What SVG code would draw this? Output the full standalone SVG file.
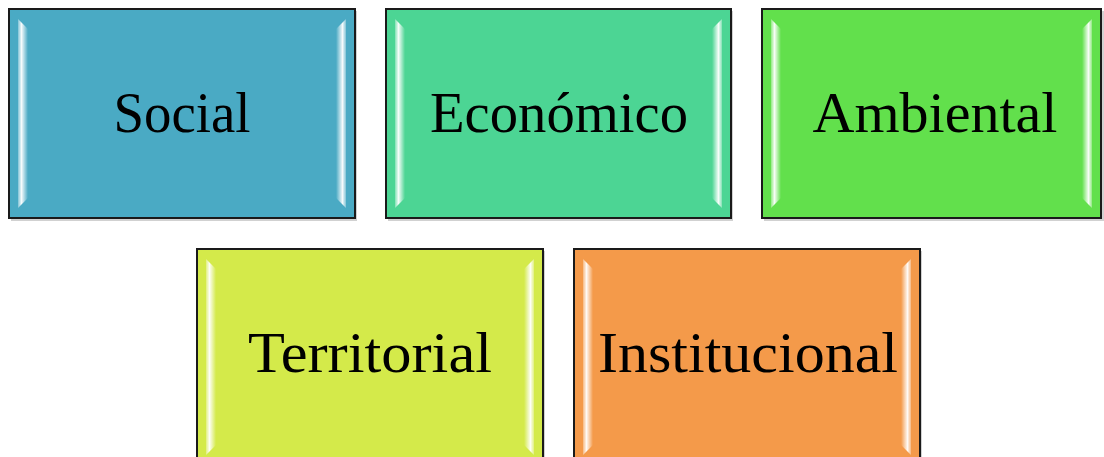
<svg xmlns="http://www.w3.org/2000/svg" width="1104" height="457" viewBox="0 0 1104 457">
<style>
.box{stroke:#1a1a1a;stroke-width:2}
.sh{fill:#000;opacity:0.18}
.lab{font-family:"Liberation Serif","Times New Roman",serif;font-size:57px;fill:#000;text-anchor:middle}
.bl{fill:url(#gl)}
.br{fill:url(#gr)}
</style>
<defs>
<linearGradient id="gl" x1="0" y1="0" x2="1" y2="0">
<stop offset="0" stop-color="#fff" stop-opacity="0.3"/>
<stop offset="0.35" stop-color="#fff" stop-opacity="0.95"/>
<stop offset="1" stop-color="#fff" stop-opacity="0"/>
</linearGradient>
<linearGradient id="gr" x1="0" y1="0" x2="1" y2="0">
<stop offset="0" stop-color="#fff" stop-opacity="0"/>
<stop offset="0.65" stop-color="#fff" stop-opacity="0.95"/>
<stop offset="1" stop-color="#fff" stop-opacity="0.3"/>
</linearGradient>
</defs>
<g id="social">
<rect class="sh" x="11" y="11" width="346" height="210"/>
<rect class="box" x="9" y="9" width="346" height="209" fill="#4aaac4"/>
<polygon class="bl" points="18,19 28,29 28,198 18,208"/>
<polygon class="br" points="346,19 336,29 336,198 346,208"/>
<text class="lab" x="182" y="132" textLength="137" lengthAdjust="spacingAndGlyphs">Social</text>
</g>
<g id="economico">
<rect class="sh" x="388" y="11" width="345" height="210"/>
<rect class="box" x="386" y="9" width="345" height="209" fill="#4cd594"/>
<polygon class="bl" points="395,19 405,29 405,198 395,208"/>
<polygon class="br" points="722,19 712,29 712,198 722,208"/>
<text class="lab" x="559" y="132" textLength="258" lengthAdjust="spacingAndGlyphs">Económico</text>
</g>
<g id="ambiental">
<rect class="sh" x="764" y="11" width="342" height="210"/>
<rect class="box" x="762" y="9" width="339" height="209" fill="#62e04c"/>
<polygon class="bl" points="771,19 781,29 781,198 771,208"/>
<polygon class="br" points="1092,19 1082,29 1082,198 1092,208"/>
<text class="lab" x="935" y="132" textLength="245" lengthAdjust="spacingAndGlyphs">Ambiental</text>
</g>
<g id="territorial">
<rect class="sh" x="199" y="251" width="346" height="210"/>
<rect class="box" x="197" y="249" width="346" height="215" fill="#d4ea4a"/>
<polygon class="bl" points="206,259 216,269 216,445 206,455"/>
<polygon class="br" points="534,259 524,269 524,445 534,455"/>
<text class="lab" x="370" y="372" textLength="244" lengthAdjust="spacingAndGlyphs">Territorial</text>
</g>
<g id="institucional">
<rect class="sh" x="576" y="251" width="346" height="210"/>
<rect class="box" x="574" y="249" width="346" height="215" fill="#f49a4a"/>
<polygon class="bl" points="583,259 593,269 593,445 583,455"/>
<polygon class="br" points="911,259 901,269 901,445 911,455"/>
<text class="lab" x="748" y="372" textLength="300" lengthAdjust="spacingAndGlyphs">Institucional</text>
</g>
<g id="connectors"/>
</svg>
